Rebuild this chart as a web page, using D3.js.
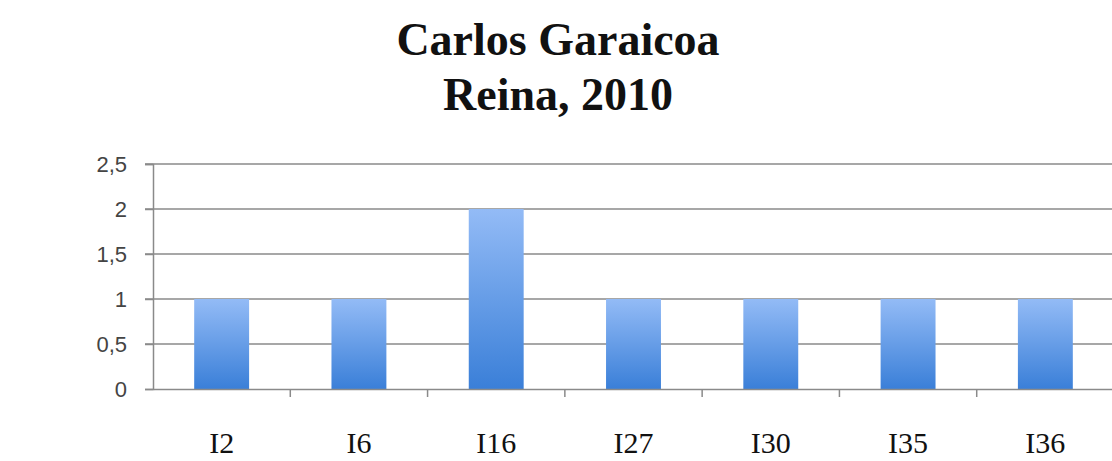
<!DOCTYPE html>
<html>
<head>
<meta charset="utf-8">
<script src="https://cdn.jsdelivr.net/npm/d3@7"></script>
<style>
  html, body { margin: 0; padding: 0; background: #fff; }
  svg { display: block; }
</style>
</head>
<body>
<svg id="chart" width="1112" height="461"></svg>
<script>
// Chart data
const categories = ["I2", "I6", "I16", "I27", "I30", "I35", "I36"];
const values = [1, 1, 2, 1, 1, 1, 1];
const yTicks = [0, 0.5, 1, 1.5, 2, 2.5];
const titleLines = ["Carlos Garaicoa", "Reina, 2010"];

const svg = d3.select("#chart");
const margin = { left: 153, right: -2, top: 164, bottom: 72 };
const W = 1112, H = 461;

const x = d3.scaleBand()
  .domain(categories)
  .range([margin.left, W - margin.right])
  .paddingInner(0.6)
  .paddingOuter(0.3);

const y = d3.scaleLinear()
  .domain([0, 2.5])
  .range([H - margin.bottom, margin.top]);

// Bar gradient
const defs = svg.append("defs");
const grad = defs.append("linearGradient")
  .attr("id", "barGrad")
  .attr("x1", 0).attr("y1", 0).attr("x2", 0).attr("y2", 1);
grad.append("stop").attr("offset", "0%").attr("stop-color", "#93bbf6");
grad.append("stop").attr("offset", "100%").attr("stop-color", "#3a7fd8");

// Title
const title = svg.append("g");
titleLines.forEach((t, i) => {
  title.append("text")
    .attr("x", 558)
    .attr("y", 55 + i * 55)
    .attr("text-anchor", "middle")
    .attr("font-family", "'Liberation Serif', 'Times New Roman', serif")
    .attr("font-weight", "bold")
    .attr("font-size", 46)
    .attr("fill", "#111")
    .text(t);
});

// Gridlines
svg.append("g")
  .selectAll("line")
  .data(yTicks.filter(d => d > 0))
  .join("line")
  .attr("x1", margin.left - 8)
  .attr("x2", W)
  .attr("y1", d => y(d))
  .attr("y2", d => y(d))
  .attr("stroke", "#8a8a8a")
  .attr("stroke-width", 1.5);

// Bars
svg.append("g")
  .selectAll("rect")
  .data(categories.map((c, i) => ({ c, v: values[i] })))
  .join("rect")
  .attr("x", d => x(d.c))
  .attr("width", x.bandwidth())
  .attr("y", d => y(d.v))
  .attr("height", d => y(0) - y(d.v))
  .attr("fill", "url(#barGrad)");

// Y axis
const yAxis = svg.append("g")
  .attr("transform", `translate(${margin.left},0)`)
  .call(d3.axisLeft(y)
    .tickValues(yTicks)
    .tickSize(8)
    .tickPadding(18)
    .tickFormat(d => String(d).replace(".", ",")));
yAxis.select(".domain").attr("stroke", "#8a8a8a").attr("stroke-width", 1.5);
yAxis.selectAll(".tick line").attr("stroke", "#8a8a8a").attr("stroke-width", 1.5);
yAxis.selectAll(".tick text")
  .attr("font-family", "'Liberation Sans', Arial, sans-serif")
  .attr("font-size", 22)
  .attr("fill", "#444");

// X axis
const xAxis = svg.append("g")
  .attr("transform", `translate(0,${y(0)})`)
  .call(d3.axisBottom(x).tickSize(0));
xAxis.select(".domain").attr("stroke", "#8a8a8a").attr("stroke-width", 1.5);
xAxis.selectAll(".tick text")
  .attr("y", 64)
  .attr("dy", 0)
  .attr("font-family", "'Liberation Serif', 'Times New Roman', serif")
  .attr("font-size", 30)
  .attr("fill", "#111");

// Tick marks between categories
const step = x.step();
svg.append("g")
  .selectAll("line")
  .data(categories.slice(1))
  .join("line")
  .attr("x1", d => x(d) - (step - x.bandwidth()) / 2)
  .attr("x2", d => x(d) - (step - x.bandwidth()) / 2)
  .attr("y1", y(0))
  .attr("y2", y(0) + 8)
  .attr("stroke", "#8a8a8a")
  .attr("stroke-width", 1.5);
</script>
</body>
</html>
